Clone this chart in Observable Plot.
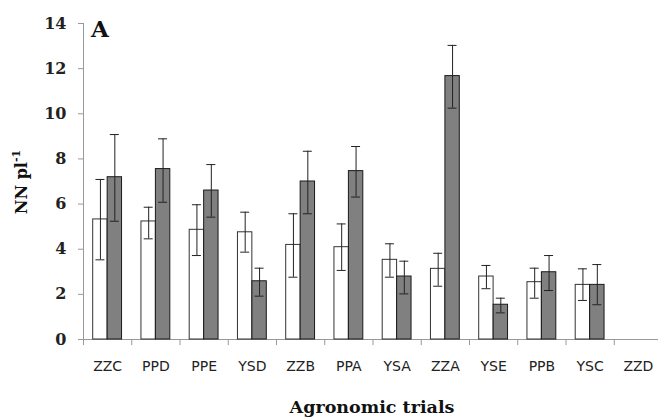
<!DOCTYPE html>
<html>
<head>
<meta charset="utf-8">
<script src="https://cdn.jsdelivr.net/npm/d3@7"></script>
<script src="https://cdn.jsdelivr.net/npm/@observablehq/plot@0.6"></script>
<style>
  html, body { margin: 0; padding: 0; background: #fff; }
  #chart { width: 658px; height: 417px; overflow: hidden; }
  svg { display: block; }
</style>
</head>
<body>
<div id="chart"></div>
<script>
const categories = ["ZZC","PPD","PPE","YSD","ZZB","PPA","YSA","ZZA","YSE","PPB","YSC","ZZD"];
const whiteMean = [5.32,5.23,4.86,4.75,4.19,4.09,3.53,3.13,2.79,2.54,2.42,null];
const whiteLow  = [3.53,4.46,3.72,3.87,2.76,3.06,2.76,2.36,2.25,1.83,1.73,null];
const whiteHigh = [7.09,5.86,5.97,5.64,5.57,5.12,4.24,3.82,3.28,3.16,3.13,null];
const grayMean  = [7.19,7.55,6.60,2.58,7.00,7.46,2.79,11.67,1.54,2.98,2.42,null];
const grayLow   = [5.24,6.08,5.42,1.92,5.57,6.31,2.02,10.25,1.18,2.17,1.54,null];
const grayHigh  = [9.08,8.89,7.75,3.16,8.34,8.55,3.47,13.03,1.83,3.72,3.32,null];
const yTicks = [0,2,4,6,8,10,12,14];

const rows = categories.map((c, i) => ({
  c, w: whiteMean[i], wl: whiteLow[i], wh: whiteHigh[i],
  g: grayMean[i], gl: grayLow[i], gh: grayHigh[i]
})).filter(d => d.w != null);

const W = 658, H = 417;
const x0 = 83, x1 = 662;
const half = (x1 - x0) / categories.length / 2;
const off = 7.2, cap = 4.5;
const serif = "DejaVu Serif";

const chart = Plot.plot({
  width: W, height: H,
  marginLeft: x0, marginRight: 0, marginTop: 23, marginBottom: 78,
  style: {background: "#fff", overflow: "visible"},
  x: {domain: categories, range: [x0, x1], padding: 0, round: false},
  y: {domain: [0, 14]},
  marks: [
    Plot.ruleY([0], {stroke: "#999"}),
    Plot.ruleX([categories[0]], {x: d => d, dx: -half, y1: 0, y2: 14, stroke: "#999"}),
    Plot.ruleX(categories, {x: d => d, dx: -half, y1: 0, y2: -0.27, stroke: "#999"}),
    Plot.barY(rows, {x: "c", y: "w", fill: "#fff", stroke: "#333", strokeWidth: 1, insetLeft: 9.7, insetRight: half * 2 - 9.7 - 14.4}),
    Plot.barY(rows, {x: "c", y: "g", fill: "#808080", stroke: "#1a1a1a", strokeWidth: 1, insetLeft: half * 2 - 9.7 - 14.4, insetRight: 9.7}),
    Plot.ruleX(rows, {x: "c", y1: "wl", y2: "wh", dx: -off, stroke: "#222"}),
    Plot.tickY(rows, {x: "c", y: "wh", dx: -off, insetLeft: half - cap, insetRight: half - cap, stroke: "#222"}),
    Plot.tickY(rows, {x: "c", y: "wl", dx: -off, insetLeft: half - cap, insetRight: half - cap, stroke: "#222"}),
    Plot.ruleX(rows, {x: "c", y1: "gl", y2: "gh", dx: off, stroke: "#222"}),
    Plot.tickY(rows, {x: "c", y: "gh", dx: off, insetLeft: half - cap, insetRight: half - cap, stroke: "#222"}),
    Plot.tickY(rows, {x: "c", y: "gl", dx: off, insetLeft: half - cap, insetRight: half - cap, stroke: "#222"}),
    Plot.axisY({ticks: yTicks, tickSize: 5, tickPadding: 12, fontSize: 16, fontFamily: serif, fontWeight: "bold", label: null, stroke: "#999", fill: "#222"}),
    Plot.axisX({tickSize: 0, tickPadding: 22, fontSize: 14, fontFamily: "DejaVu Sans", label: null, fill: "#222"})
  ]
});

document.getElementById("chart").appendChild(chart);

const svg = d3.select(chart);
svg.append("text")
  .attr("x", 100).attr("y", 37)
  .attr("font-family", serif).attr("font-weight", "bold").attr("font-size", 23)
  .attr("fill", "#111")
  .text("A");

const yl = svg.append("text")
  .attr("transform", "translate(27,182) rotate(-90)")
  .attr("text-anchor", "middle")
  .attr("font-family", serif).attr("font-weight", "bold").attr("font-size", 16)
  .attr("fill", "#111");
yl.append("tspan").text("NN pl");
yl.append("tspan").attr("font-size", 11).attr("dy", -7).text("-1");

svg.append("text")
  .attr("x", 372).attr("y", 413)
  .attr("text-anchor", "middle")
  .attr("font-family", serif).attr("font-weight", "bold").attr("font-size", 17.5)
  .attr("fill", "#111")
  .text("Agronomic trials");
</script>
</body>
</html>
